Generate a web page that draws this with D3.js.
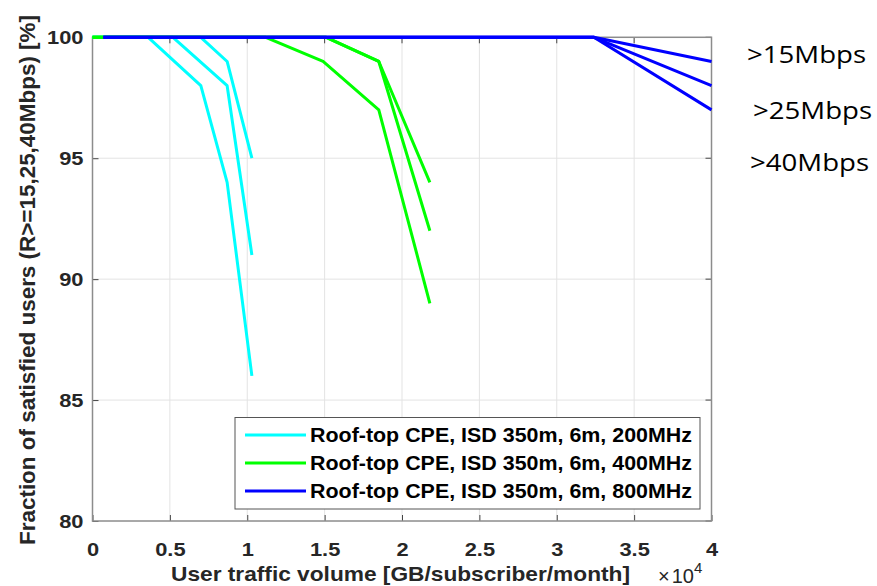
<!DOCTYPE html>
<html>
<head>
<meta charset="utf-8">
<script src="https://cdn.jsdelivr.net/npm/d3@7"></script>
<style>
  body { margin: 0; background: #fff; }
  svg text { font-family: "Liberation Sans", Arial, sans-serif; }
</style>
</head>
<body>
<script>
// x values are in units of 1e4 GB/subscriber/month
var xTicks = [0, 0.5, 1, 1.5, 2, 2.5, 3, 3.5, 4];
var yTicks = [80, 85, 90, 95, 100];

// 200MHz (cyan) curves for >15, >25, >40 Mbps
var cyan15 = [[0, 100], [0.70, 100], [0.87, 99], [1.03, 95]];
var cyan25 = [[0, 100], [0.52, 100], [0.87, 98], [1.03, 91]];
var cyan40 = [[0, 100], [0.36, 100], [0.70, 98], [0.87, 94], [1.03, 86]];

// 400MHz (green)
var green15 = [[0, 100], [1.51, 100], [1.85, 99], [2.18, 94]];
var green25 = [[0, 100], [1.51, 100], [1.85, 99], [2.18, 92]];
var green40 = [[0, 100], [1.12, 100], [1.49, 99], [1.85, 97], [2.18, 89]];

// 800MHz (blue)
var blue15 = [[0.07, 100], [3.24, 100], [4, 99]];
var blue25 = [[0.07, 100], [3.24, 100], [4, 98]];
var blue40 = [[0.07, 100], [3.24, 100], [4, 97]];

var legendLabels = [
  "Roof-top CPE, ISD 350m, 6m, 200MHz",
  "Roof-top CPE, ISD 350m, 6m, 400MHz",
  "Roof-top CPE, ISD 350m, 6m, 800MHz"
];
var colors = ["#00ffff", "#00ff00", "#0000ff"];
var rateLabels = [">15Mbps", ">25Mbps", ">40Mbps"];

var series = [
  {color: colors[0], lines: [cyan15, cyan25, cyan40]},
  {color: colors[1], lines: [green15, green25, green40]},
  {color: colors[2], lines: [blue15, blue25, blue40]}
];

var W = 877, H = 586;
// the original picture is a bit stretched horizontally, so text gets scaled too
var sx = 1.15;
var pLeft = 92.5, pRight = 711.5, pTop = 37.3, pBottom = 521;

var x = d3.scaleLinear().domain([0, 4]).range([pLeft, pRight]);
var y = d3.scaleLinear().domain([80, 100]).range([pBottom, pTop]);

var svg = d3.select('body').append('svg')
    .attr('width', W)
    .attr('height', H);

// grid
svg.append('g').selectAll('line')
    .data(xTicks.slice(1, -1))
    .enter().append('line')
    .attr('x1', d => x(d)).attr('x2', d => x(d))
    .attr('y1', pTop).attr('y2', pBottom)
    .attr('stroke', '#e3e3e3').attr('stroke-width', 1);
svg.append('g').selectAll('line')
    .data(yTicks.slice(1, -1))
    .enter().append('line')
    .attr('x1', pLeft).attr('x2', pRight)
    .attr('y1', d => y(d)).attr('y2', d => y(d))
    .attr('stroke', '#e3e3e3').attr('stroke-width', 1);

// axes (ticks inside, matlab style)
var xAxis = d3.axisBottom(x).tickValues(xTicks).tickSizeInner(-6).tickSizeOuter(0)
    .tickFormat(d3.format('~g'));
var yAxis = d3.axisLeft(y).tickValues(yTicks).tickSizeInner(-6).tickSizeOuter(0);

var gx = svg.append('g')
    .attr('transform', `translate(0, ${pBottom})`)
    .call(xAxis);
var gy = svg.append('g')
    .attr('transform', `translate(${pLeft}, 0)`)
    .call(yAxis);
[gx, gy].forEach(function(g) {
  g.select('.domain').remove();
  g.selectAll('line').attr('stroke', '#444');
  g.selectAll('text')
    .attr('fill', '#262626')
    .style('font-size', '19px')
    .style('font-weight', 'bold');
});
gx.selectAll('text')
    .attr('y', 0).attr('dy', 0)
    .attr('transform', `translate(0, 35) scale(${sx}, 1)`);
gy.selectAll('text')
    .attr('x', 0).attr('dy', '0.35em')
    .attr('transform', `translate(-9, 0) scale(${sx}, 1)`);

// top ticks / right ticks
svg.append('g').selectAll('line')
    .data(xTicks)
    .enter().append('line')
    .attr('x1', d => x(d)).attr('x2', d => x(d))
    .attr('y1', pTop).attr('y2', pTop + 6)
    .attr('stroke', '#444');
svg.append('g').selectAll('line')
    .data(yTicks)
    .enter().append('line')
    .attr('x1', pRight - 6).attr('x2', pRight)
    .attr('y1', d => y(d)).attr('y2', d => y(d))
    .attr('stroke', '#444');

// box
svg.append('rect')
    .attr('x', pLeft).attr('y', pTop)
    .attr('width', pRight - pLeft).attr('height', pBottom - pTop)
    .attr('fill', 'none')
    .attr('stroke', '#8c8c8c')
    .attr('stroke-width', 1.5);

// lines
var line = d3.line().x(d => x(d[0])).y(d => y(d[1]));
series.forEach(function(s) {
  svg.append('g').selectAll('path')
      .data(s.lines)
      .enter().append('path')
      .attr('d', line)
      .attr('fill', 'none')
      .attr('stroke', s.color)
      .attr('stroke-width', 3)
      .attr('stroke-linejoin', 'round');
});

// legend
var leg = svg.append('g');
leg.append('rect')
    .attr('x', 235).attr('y', 417.5)
    .attr('width', 465).attr('height', 91.5)
    .attr('fill', '#fff')
    .attr('stroke', '#555')
    .attr('stroke-width', 1);
legendLabels.forEach(function(lbl, i) {
  var ly = 435 + i * 28;
  leg.append('line')
      .attr('x1', 245).attr('x2', 306)
      .attr('y1', ly).attr('y2', ly)
      .attr('stroke', colors[i]).attr('stroke-width', 3);
  leg.append('text')
      .attr('x', 310).attr('y', ly)
      .attr('dy', '0.36em')
      .attr('textLength', 382)
      .attr('lengthAdjust', 'spacingAndGlyphs')
      .style('font-size', '20px')
      .style('font-weight', 'bold')
      .attr('fill', '#000')
      .text(lbl);
});

// axis titles
svg.append('text')
    .attr('x', 171).attr('y', 581)
    .attr('textLength', 459)
    .attr('lengthAdjust', 'spacingAndGlyphs')
    .style('font-size', '21px')
    .style('font-weight', 'bold')
    .attr('fill', '#262626')
    .text('User traffic volume [GB/subscriber/month]');

var exp = svg.append('text')
    .attr('x', 658).attr('y', 583)
    .style('font-size', '20px')
    .attr('fill', '#262626');
exp.append('tspan').text('\u00d7');
exp.append('tspan').attr('dx', 2).text('10');
exp.append('tspan').attr('dy', -10).style('font-size', '15px').text('4');

svg.append('text')
    .attr('transform', `translate(27, 280) scale(1.2, 1) rotate(-90)`)
    .attr('dy', '0.35em')
    .attr('textLength', 530)
    .attr('lengthAdjust', 'spacingAndGlyphs')
    .style('text-anchor', 'middle')
    .style('font-size', '18px')
    .style('font-weight', 'bold')
    .attr('fill', '#262626')
    .text('Fraction of satisfied users (R>=15,25,40Mbps) [%]');

// rate annotations
var rateX = [747, 753, 750];
var rateY = [55, 111, 163];
rateLabels.forEach(function(t, i) {
  svg.append('text')
      .attr('transform', `translate(${rateX[i]}, ${rateY[i]}) scale(${sx}, 1)`)
      .attr('dy', '0.35em')
      .style('font-family', '"Open Sans", sans-serif')
      .style('font-size', '24px')
      .attr('fill', '#000')
      .text(t);
});
</script>
</body>
</html>
